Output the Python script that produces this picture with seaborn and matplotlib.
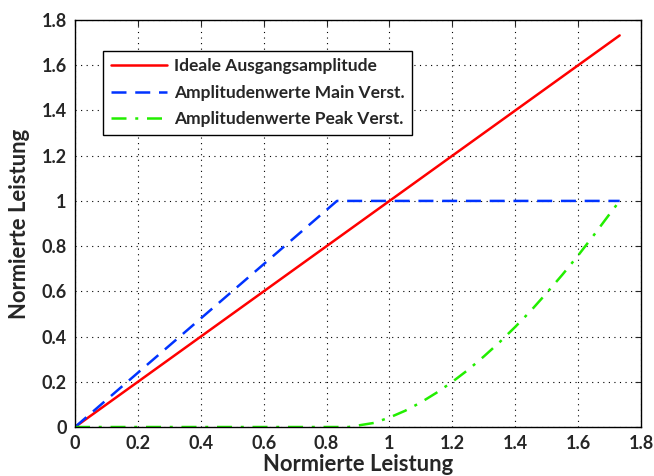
import numpy as np
import pandas as pd
import matplotlib
matplotlib.use("Agg")
import matplotlib.pyplot as plt
import seaborn as sns

# data
ideal_x = [0.0, 1.732]
ideal_y = [0.0, 1.732]

main_x = [0.0, 0.833, 1.732]
main_y = [0.0, 1.0, 1.0]

peak_x = [0.0, 0.87, 0.95, 1.0, 1.05, 1.1, 1.15, 1.2, 1.25, 1.3, 1.35, 1.4,
          1.45, 1.5, 1.55, 1.6, 1.65, 1.7, 1.732]
peak_y = [0.0, 0.0, 0.018, 0.042, 0.072, 0.109, 0.152, 0.2, 0.253, 0.312, 0.375, 0.443,
          0.515, 0.593, 0.674, 0.759, 0.849, 0.942, 1.0]

labels = ["Ideale Ausgangsamplitude", "Amplitudenwerte Main Verst.", "Amplitudenwerte Peak Verst."]
ticks = [0, 0.2, 0.4, 0.6, 0.8, 1, 1.2, 1.4, 1.6, 1.8]
tick_labels = ["0", "0.2", "0.4", "0.6", "0.8", "1", "1.2", "1.4", "1.6", "1.8"]

sns.set_style("white")
plt.rcParams['font.family'] = ['Lato', 'DejaVu Sans']
plt.rcParams['font.weight'] = 'bold'

fig = plt.figure(figsize=(6.54, 4.76), dpi=100)
ax = fig.add_axes([0.1147, 0.1029, 0.8655, 0.855])

sns.lineplot(x=ideal_x, y=ideal_y, ax=ax, color="#ff0000", lw=1.8, label=labels[0])
sns.lineplot(x=main_x, y=main_y, ax=ax, color="#0033ff", lw=1.8, label=labels[1])
sns.lineplot(x=peak_x, y=peak_y, ax=ax, color="#22ee00", lw=1.8, label=labels[2])
ax.lines[1].set_dashes([6, 3.5])
ax.lines[2].set_dashes([6, 3.5, 1.2, 3.5])

ax.set_xlim(0, 1.8)
ax.set_ylim(0, 1.8)
ax.set_xticks(ticks)
ax.set_xticklabels(tick_labels)
ax.set_yticks(ticks)
ax.set_yticklabels(tick_labels)
ax.tick_params(labelsize=13, direction="in", length=4, width=0.8, top=True, right=True, pad=6)
for t in ax.get_xticklabels() + ax.get_yticklabels():
    t.set_fontweight("bold")
ax.grid(True, color="black", linestyle=(0, (1, 4)), linewidth=0.8)
for s in ax.spines.values():
    s.set_color("black")
    s.set_linewidth(1.0)

ax.set_xlabel("Normierte Leistung", fontsize=15.8, fontweight="bold", labelpad=1)
ax.set_ylabel("Normierte Leistung", fontsize=15.8, fontweight="bold", labelpad=8)

leg = ax.legend(loc="upper left", bbox_to_anchor=(0.05, 0.925), borderaxespad=0,
                fontsize=12.5, frameon=True, fancybox=False, edgecolor="black",
                framealpha=1, handlelength=3.2, borderpad=0.45, labelspacing=0.6,
                handletextpad=0.4)
leg.get_frame().set_linewidth(1.0)
for t in leg.get_texts():
    t.set_fontweight("bold")

plt.savefig("out.png", dpi=100)
